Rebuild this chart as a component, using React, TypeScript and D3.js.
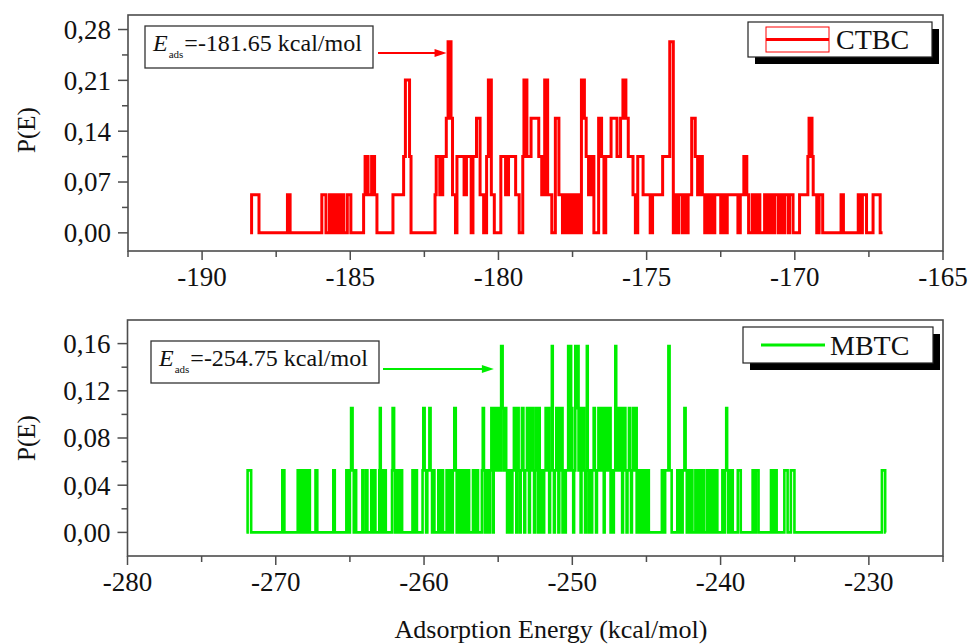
import React from 'react';
import * as d3 from 'd3';

// Each step: [adsorption energy (kcal/mol), probability level index]
type Step = [number, number];

// Probability levels P(E) used by both distributions
const levelP = [0, 0.0526, 0.1053, 0.1579, 0.2105, 0.2632];

const ctbcSteps: Step[] = [
  [-188.38, 0], [-188.33, 1], [-188.08, 0],
  [-187.12, 1], [-187.03, 0],
  [-185.96, 1], [-185.82, 0], [-185.70, 1], [-185.62, 0], [-185.56, 1], [-185.50, 0], [-185.44, 1], [-185.36, 0],
  [-185.30, 1], [-185.22, 0], [-185.10, 1], [-184.98, 0],
  [-184.55, 1], [-184.50, 2], [-184.40, 1], [-184.28, 2], [-184.18, 1], [-184.10, 0],
  [-183.56, 1], [-183.20, 2], [-183.14, 4], [-183.00, 2], [-182.95, 0],
  [-182.14, 1], [-182.10, 2], [-181.98, 1], [-181.88, 2], [-181.76, 3], [-181.70, 5], [-181.60, 3], [-181.55, 1], [-181.45, 0],
  [-181.40, 2], [-181.16, 1], [-181.08, 2], [-180.92, 0], [-180.86, 2], [-180.74, 3], [-180.62, 1], [-180.50, 0],
  [-180.40, 2], [-180.34, 4], [-180.24, 1], [-180.14, 0],
  [-179.92, 2], [-179.76, 1], [-179.66, 2], [-179.42, 1], [-179.30, 0], [-179.18, 2], [-179.14, 4], [-179.04, 2],
  [-178.90, 3], [-178.64, 2], [-178.54, 1], [-178.44, 4], [-178.34, 1], [-178.20, 0],
  [-178.08, 3], [-177.96, 1], [-177.84, 0], [-177.76, 1], [-177.68, 0], [-177.60, 1], [-177.54, 0], [-177.46, 1],
  [-177.38, 0], [-177.32, 1], [-177.24, 0], [-177.20, 4], [-177.10, 3], [-177.04, 2], [-176.96, 1], [-176.88, 2],
  [-176.78, 0], [-176.62, 3], [-176.52, 2], [-176.44, 0], [-176.38, 2], [-176.20, 3], [-176.00, 2], [-175.88, 3],
  [-175.80, 4], [-175.70, 3], [-175.62, 2], [-175.46, 1], [-175.38, 0], [-175.30, 2], [-175.12, 1], [-174.88, 0],
  [-174.80, 1], [-174.46, 2], [-174.22, 5], [-174.10, 0],
  [-174.04, 1], [-173.98, 0], [-173.92, 1], [-173.80, 0], [-173.74, 1], [-173.66, 0], [-173.60, 1], [-173.48, 3],
  [-173.36, 2], [-173.28, 1], [-173.22, 2], [-173.12, 1], [-173.04, 0], [-172.96, 1], [-172.90, 0], [-172.84, 1],
  [-172.76, 0], [-172.70, 1], [-172.50, 0], [-172.44, 1], [-172.36, 0], [-172.28, 1], [-171.92, 0], [-171.84, 1],
  [-171.72, 2], [-171.62, 1], [-171.56, 0], [-171.44, 1], [-171.34, 0], [-171.28, 1], [-171.18, 0], [-171.02, 1],
  [-170.94, 0], [-170.84, 1], [-170.74, 0], [-170.68, 1], [-170.56, 0], [-170.48, 1], [-170.40, 0], [-170.34, 1],
  [-170.22, 0], [-170.18, 1], [-170.06, 0], [-169.84, 1], [-169.56, 2], [-169.52, 3], [-169.42, 2], [-169.38, 1],
  [-169.26, 0], [-169.18, 1], [-169.06, 0], [-168.44, 1], [-168.36, 0], [-167.86, 1], [-167.76, 0], [-167.72, 1],
  [-167.58, 0], [-167.36, 1], [-167.12, 0], [-167.04, 0],
];

const mbtcSteps: Step[] = [
  [-271.98, 0], [-271.90, 1], [-271.66, 0],
  [-269.56, 1], [-269.42, 0],
  [-268.52, 1], [-268.42, 0], [-268.36, 1], [-268.26, 0], [-268.20, 1], [-268.12, 0], [-268.00, 1], [-267.90, 0],
  [-267.80, 1], [-267.70, 0], [-267.32, 1], [-267.20, 0],
  [-266.12, 1], [-266.02, 0],
  [-265.24, 1], [-265.16, 0], [-265.00, 1], [-264.92, 2], [-264.82, 1], [-264.74, 0], [-264.66, 1], [-264.58, 0],
  [-264.16, 1], [-264.08, 0], [-263.90, 1], [-263.82, 0],
  [-263.56, 1], [-263.44, 0], [-263.38, 1], [-263.28, 0],
  [-263.02, 1], [-262.98, 2], [-262.92, 1], [-262.86, 0], [-262.80, 1], [-262.72, 0], [-262.66, 1], [-262.58, 0],
  [-262.16, 1], [-262.12, 2], [-262.02, 1], [-261.96, 0], [-261.90, 1], [-261.80, 0], [-261.74, 1], [-261.64, 0],
  [-261.58, 1], [-261.48, 0],
  [-260.78, 1], [-260.68, 0], [-260.60, 1], [-260.48, 0],
  [-260.10, 1], [-260.05, 2], [-259.96, 1], [-259.86, 0], [-259.78, 1], [-259.64, 2], [-259.56, 1], [-259.46, 0],
  [-259.40, 1], [-259.30, 0],
  [-259.04, 1], [-258.94, 0], [-258.86, 1], [-258.72, 0],
  [-258.48, 1], [-258.36, 0], [-258.28, 1], [-258.12, 0], [-258.06, 1], [-257.96, 2], [-257.86, 1], [-257.80, 0],
  [-257.74, 1], [-257.64, 0], [-257.58, 1], [-257.48, 0], [-257.42, 1], [-257.30, 0], [-257.24, 1], [-257.14, 0],
  [-257.08, 1], [-256.96, 0],
  [-256.70, 1], [-256.58, 0], [-256.50, 1], [-256.36, 0],
  [-256.10, 1], [-256.04, 2], [-255.96, 1], [-255.90, 0], [-255.84, 1], [-255.76, 0], [-255.70, 1], [-255.60, 0],
  [-255.54, 1], [-255.46, 2], [-255.40, 1], [-255.34, 0], [-255.30, 1], [-255.24, 2], [-255.16, 1], [-255.10, 2],
  [-255.02, 1], [-254.96, 2], [-254.88, 1], [-254.80, 3], [-254.70, 2], [-254.62, 1], [-254.54, 2], [-254.46, 1],
  [-254.40, 0], [-254.34, 1], [-254.26, 0], [-254.20, 1], [-254.10, 0], [-254.04, 1], [-253.94, 2], [-253.86, 1],
  [-253.78, 0], [-253.72, 2], [-253.62, 1], [-253.54, 0], [-253.48, 1], [-253.40, 2], [-253.30, 1], [-253.24, 0],
  [-253.18, 1], [-253.06, 2], [-252.98, 1], [-252.92, 0], [-252.86, 2], [-252.80, 1], [-252.72, 2], [-252.64, 1],
  [-252.58, 0], [-252.52, 1], [-252.46, 2], [-252.38, 1], [-252.32, 0], [-252.26, 2], [-252.20, 1], [-252.12, 0],
  [-252.06, 1], [-251.96, 0], [-251.90, 1], [-251.80, 2], [-251.72, 1], [-251.64, 2], [-251.56, 0], [-251.50, 1],
  [-251.38, 3], [-251.32, 1], [-251.24, 0], [-251.18, 1], [-251.08, 2], [-251.00, 1], [-250.94, 0], [-250.88, 2],
  [-250.80, 1], [-250.74, 2], [-250.66, 0], [-250.60, 1], [-250.50, 0], [-250.44, 1], [-250.28, 3], [-250.20, 1],
  [-250.14, 3], [-250.08, 2], [-250.00, 1], [-249.94, 0], [-249.88, 1], [-249.80, 3], [-249.74, 2], [-249.66, 3],
  [-249.58, 1], [-249.52, 2], [-249.44, 0], [-249.38, 1], [-249.28, 2], [-249.20, 1], [-249.14, 0], [-249.06, 1],
  [-249.02, 3], [-248.96, 1], [-248.88, 0], [-248.82, 1], [-248.72, 0], [-248.66, 1], [-248.56, 2], [-248.48, 1],
  [-248.40, 0], [-248.34, 1], [-248.24, 2], [-248.16, 1], [-248.10, 2], [-248.02, 1], [-247.96, 2], [-247.88, 0],
  [-247.82, 2], [-247.74, 1], [-247.68, 2], [-247.58, 1], [-247.50, 2], [-247.42, 0], [-247.36, 1], [-247.26, 0],
  [-247.20, 1], [-247.10, 3], [-247.04, 2], [-246.96, 1], [-246.90, 2], [-246.80, 1], [-246.74, 2], [-246.64, 0],
  [-246.58, 1], [-246.48, 2], [-246.42, 1], [-246.34, 0], [-246.28, 1], [-246.18, 2], [-246.10, 1], [-246.04, 0],
  [-245.98, 1], [-245.90, 2], [-245.82, 1], [-245.74, 2], [-245.66, 0], [-245.60, 1], [-245.50, 0], [-245.44, 1],
  [-245.34, 0], [-245.28, 1], [-245.18, 0], [-245.12, 1], [-245.02, 0], [-244.96, 1], [-244.84, 0],
  [-243.96, 1], [-243.80, 0], [-243.74, 1], [-243.52, 3], [-243.44, 1], [-243.30, 0],
  [-242.92, 1], [-242.80, 0], [-242.74, 1], [-242.62, 0], [-242.56, 1], [-242.44, 2], [-242.36, 1], [-242.28, 0],
  [-242.22, 1], [-242.10, 0], [-242.04, 1], [-241.90, 0], [-241.70, 1], [-241.60, 0], [-241.54, 1], [-241.44, 0],
  [-241.38, 1], [-241.28, 0], [-241.22, 1], [-241.10, 0], [-240.90, 1], [-240.80, 0], [-240.74, 1], [-240.62, 0],
  [-240.54, 1], [-240.40, 0], [-240.34, 1], [-240.22, 0], [-239.88, 1], [-239.76, 0], [-239.70, 1], [-239.62, 2],
  [-239.56, 1], [-239.48, 0], [-239.42, 1], [-239.30, 0], [-239.26, 1], [-239.18, 0], [-238.84, 1], [-238.64, 0],
  [-237.84, 1], [-237.70, 0], [-237.62, 1], [-237.44, 0], [-236.60, 1], [-236.46, 0], [-236.38, 1], [-236.22, 0],
  [-235.70, 1], [-235.48, 0], [-235.26, 1], [-235.02, 0],
  [-229.12, 1], [-228.90, 0], [-228.86, 0],
];

// Axis ticks
const ctbcXTicks = [-190, -185, -180, -175, -170, -165];
const ctbcXMinor = [-192.5, -187.5, -182.5, -177.5, -172.5, -167.5];
const ctbcYTicks = [0, 0.07, 0.14, 0.21, 0.28];
const ctbcYMinor = [0.035, 0.105, 0.175, 0.245];

const mbtcXTicks = [-280, -270, -260, -250, -240, -230];
const mbtcXMinor = [-275, -265, -255, -245, -235, -225];
const mbtcYTicks = [0, 0.04, 0.08, 0.12, 0.16];
const mbtcYMinor = [0.02, 0.06, 0.1, 0.14];

// Most probable adsorption energies
const ctbcEads = -181.65;
const mbtcEads = -254.75;

const FONT = "'Liberation Serif', 'Times New Roman', serif";
const AXIS = '#4d4d4d';

type Box = { x: number; y: number; w: number; h: number };

interface PanelProps {
  frame: { x0: number; x1: number; y0: number; y1: number };
  xDomain: [number, number];
  yDomain: [number, number];
  xTicks: number[];
  xMinor: number[];
  yTicks: number[];
  yMinor: number[];
  steps: Step[];
  color: string;
  lineWidth: number;
  name: string;
  eads: number;
  noteBox: Box;
  arrowY: number;
  arrowStart: number;
  arrowGap: number;
  legendBox: Box;
  legendKind: 'box' | 'line';
  yLabelY: number;
}

const yFmt = (v: number) => d3.format('.2f')(v).replace('.', ',');

function Panel(p: PanelProps) {
  const { frame } = p;
  const x = d3.scaleLinear().domain(p.xDomain).range([frame.x0, frame.x1]);
  const y = d3.scaleLinear().domain(p.yDomain).range([frame.y1, frame.y0]);
  const line = d3
    .line<Step>()
    .x((d) => x(d[0]))
    .y((d) => y(levelP[d[1]]))
    .curve(d3.curveStepAfter);

  const tip = x(p.eads) - p.arrowGap;
  const lb = p.legendBox;
  const nb = p.noteBox;
  const headLen = 12;

  return (
    <g>
      {/* data trace */}
      <path d={line(p.steps) ?? ''} fill="none" stroke={p.color} strokeWidth={p.lineWidth} strokeLinejoin="miter" />

      {/* frame */}
      <rect x={frame.x0} y={frame.y0} width={frame.x1 - frame.x0} height={frame.y1 - frame.y0}
        fill="none" stroke={AXIS} strokeWidth={1.6} />

      {/* x axis */}
      {p.xTicks.map((t) => (
        <g key={'xt' + t}>
          <line x1={x(t)} x2={x(t)} y1={frame.y1} y2={frame.y1 + 9} stroke={AXIS} strokeWidth={1.5} />
          <text x={x(t)} y={frame.y1 + 35} textAnchor="middle" fontSize={27} fontFamily={FONT} fill="#111">
            {String(t)}
          </text>
        </g>
      ))}
      {p.xMinor.map((t) => (
        <line key={'xm' + t} x1={x(t)} x2={x(t)} y1={frame.y1} y2={frame.y1 + 6} stroke={AXIS} strokeWidth={1.5} />
      ))}

      {/* y axis */}
      {p.yTicks.map((t) => (
        <g key={'yt' + t}>
          <line x1={frame.x0 - 10} x2={frame.x0} y1={y(t)} y2={y(t)} stroke={AXIS} strokeWidth={1.5} />
          <text x={frame.x0 - 17} y={y(t)} dy="0.35em" textAnchor="end" fontSize={27} fontFamily={FONT} fill="#111">
            {yFmt(t)}
          </text>
        </g>
      ))}
      {p.yMinor.map((t) => (
        <line key={'ym' + t} x1={frame.x0 - 6} x2={frame.x0} y1={y(t)} y2={y(t)} stroke={AXIS} strokeWidth={1.5} />
      ))}
      <text transform={`translate(26,${p.yLabelY}) rotate(-90)`} textAnchor="middle" dy="0.35em"
        fontSize={25} fontFamily={FONT} fill="#111">
        P(E)
      </text>

      {/* annotation */}
      <rect x={nb.x} y={nb.y} width={nb.w} height={nb.h} fill="#fff" stroke="#333" strokeWidth={1.3} />
      <text x={nb.x + 8} y={nb.y + 25} fontSize={24} fontFamily={FONT} fill="#111">
        <tspan fontStyle="italic">E</tspan>
        <tspan fontSize={11} dy={7} dx={1}>ads</tspan>
        <tspan dy={-7} dx={1}>{`=${p.eads.toFixed(2)} kcal/mol`}</tspan>
      </text>
      <line x1={p.arrowStart} x2={tip - headLen + 1} y1={p.arrowY} y2={p.arrowY} stroke={p.color} strokeWidth={2.2} />
      <path d={`M${tip},${p.arrowY} L${tip - headLen},${p.arrowY - 4} L${tip - headLen},${p.arrowY + 4} Z`} fill={p.color} />

      {/* legend */}
      <rect x={lb.x + 7} y={lb.y + 7} width={lb.w} height={lb.h} fill="#000" />
      <rect x={lb.x} y={lb.y} width={lb.w} height={lb.h} fill="#fff" stroke="#222" strokeWidth={1.2} />
      {p.legendKind === 'box' ? (
        <g>
          <rect x={lb.x + 18} y={lb.y + 5} width={63} height={lb.h - 10} fill="none" stroke={p.color} strokeWidth={1} />
          <line x1={lb.x + 18} x2={lb.x + 81} y1={lb.y + lb.h / 2} y2={lb.y + lb.h / 2} stroke={p.color} strokeWidth={3} />
          <text x={lb.x + 88} y={lb.y + 27} fontSize={28} fontFamily={FONT} fill="#111">{p.name}</text>
        </g>
      ) : (
        <g>
          <line x1={lb.x + 18} x2={lb.x + 82} y1={lb.y + lb.h / 2} y2={lb.y + lb.h / 2} stroke={p.color} strokeWidth={3} />
          <text x={lb.x + 87} y={lb.y + 28} fontSize={28} fontFamily={FONT} fill="#111">{p.name}</text>
        </g>
      )}
    </g>
  );
}

export default function App() {
  return (
    <svg width={971} height={644} viewBox="0 0 971 644"
      style={{ position: 'absolute', left: 0, top: 0, background: '#fff' }}>
      <rect width={971} height={644} fill="#fff" />
      <Panel
        frame={{ x0: 128, x1: 943, y0: 15, y1: 251 }}
        xDomain={[-192.5, -165]}
        yDomain={[-0.025, 0.3]}
        xTicks={ctbcXTicks}
        xMinor={ctbcXMinor}
        yTicks={ctbcYTicks}
        yMinor={ctbcYMinor}
        steps={ctbcSteps}
        color="#ff0000"
        lineWidth={3}
        name="CTBC"
        eads={ctbcEads}
        noteBox={{ x: 145, y: 26, w: 228, h: 42 }}
        arrowY={53}
        arrowStart={378}
        arrowGap={3}
        legendBox={{ x: 748, y: 22, w: 184, h: 35 }}
        legendKind="box"
        yLabelY={130}
      />
      <Panel
        frame={{ x0: 127.5, x1: 943, y0: 320, y1: 556 }}
        xDomain={[-280, -225]}
        yDomain={[-0.02, 0.18]}
        xTicks={mbtcXTicks}
        xMinor={mbtcXMinor}
        yTicks={mbtcYTicks}
        yMinor={mbtcYMinor}
        steps={mbtcSteps}
        color="#00ee00"
        lineWidth={2.6}
        name="MBTC"
        eads={mbtcEads}
        noteBox={{ x: 151, y: 341, w: 228, h: 42 }}
        arrowY={369}
        arrowStart={383}
        arrowGap={8}
        legendBox={{ x: 743, y: 327, w: 190, h: 36 }}
        legendKind="line"
        yLabelY={438}
      />
      <text x={551} y={638} textAnchor="middle" fontSize={26} fontFamily={FONT} fill="#111">
        Adsorption Energy (kcal/mol)
      </text>
    </svg>
  );
}
